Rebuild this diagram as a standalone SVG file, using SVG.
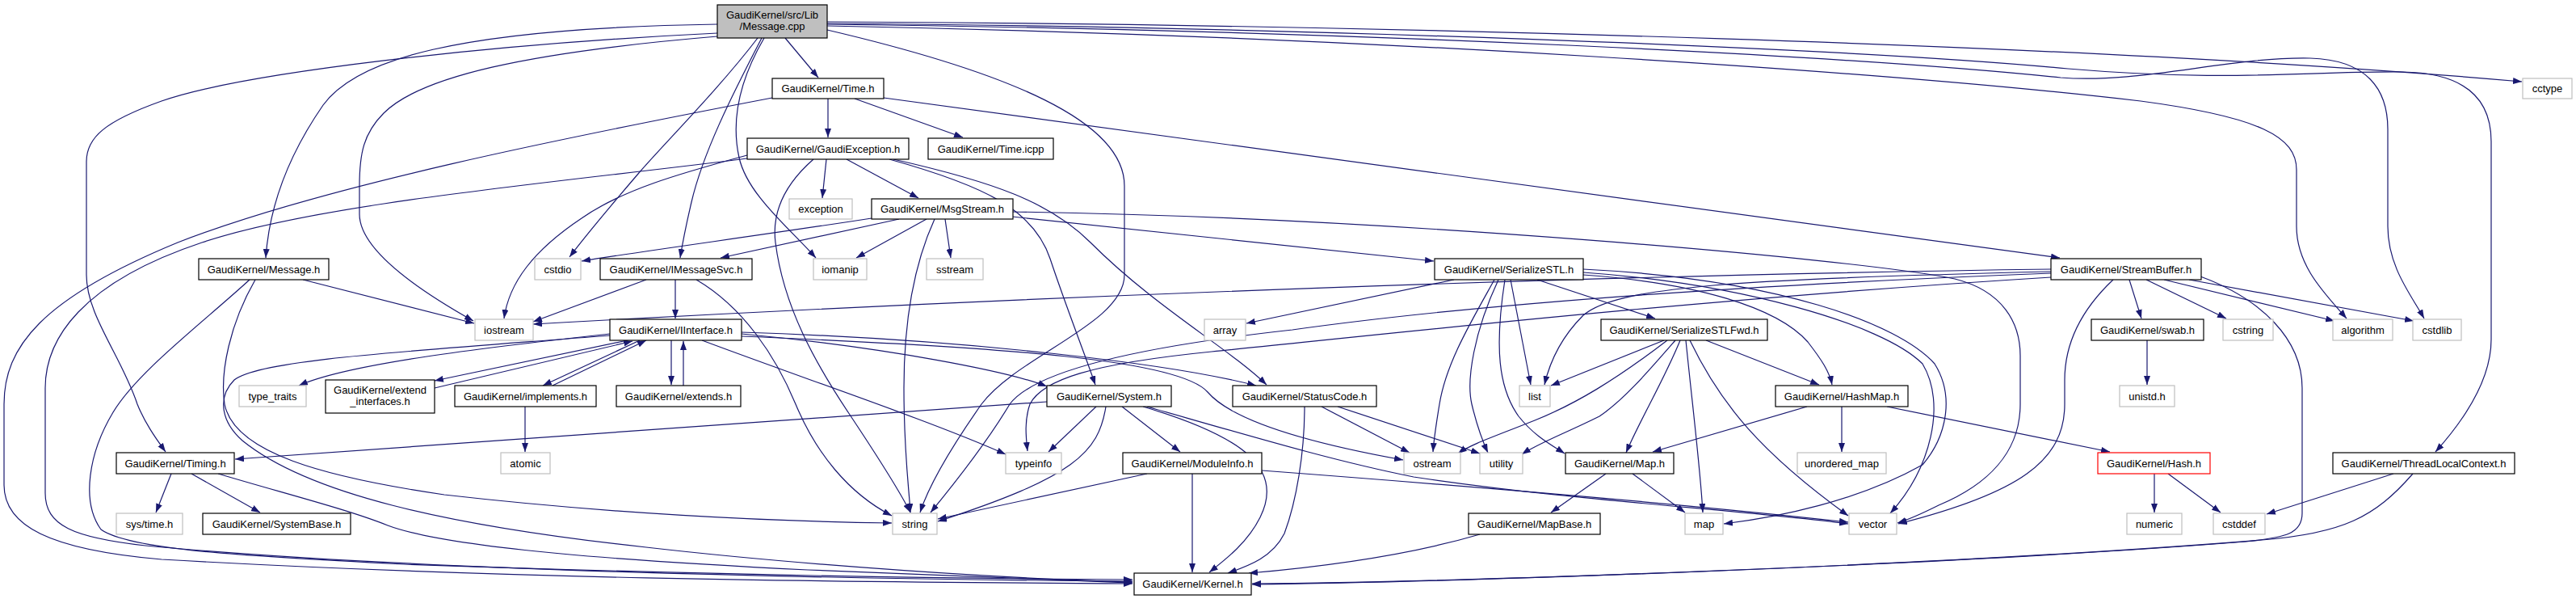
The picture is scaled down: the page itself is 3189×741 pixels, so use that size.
<svg xmlns="http://www.w3.org/2000/svg" width="3189" height="741" viewBox="0 0 3189 741">
<defs>
<marker id="a" markerUnits="userSpaceOnUse" markerWidth="11" markerHeight="8" refX="11" refY="4" orient="auto"><path d="M0,0 L11,4 L0,8 z" fill="#191970"/></marker>
<style>
rect{fill:#fff;stroke:#000;stroke-width:1.2}
.s rect{stroke:#bfbfbf}
.r rect{stroke:#ff0000}
.root rect{fill:#bfbfbf}
text{font-family:"Liberation Sans",Arial,sans-serif;font-size:13px;text-anchor:middle;fill:#000}
#edges path{fill:none;stroke:#191970;stroke-width:1.2;marker-end:url(#a)}
</style>
</defs>
<rect x="0" y="0" width="3189" height="741" style="fill:#fff;stroke:none"/>
<g id="edges">
<path d="M972,47 L1013,96"/>
<path d="M1024,27 C1700,30 2600,55 3122,101"/>
<path d="M1024,29 C1600,33 2300,60 2560,85 C2760,102 2850,88 2974,89 C3050,90 3084,120 3084,175 L3084,420 C3084,470 3050,520 3015,559"/>
<path d="M1024,30 C1700,38 2300,70 2551,96 C2650,104 2760,70 2860,72 C2930,74 2956,110 2956,160 L2956,280 C2956,330 2985,365 3001,394"/>
<path d="M1024,32 C1700,45 2350,90 2650,125 C2800,145 2843,170 2843,210 L2843,280 C2843,330 2880,365 2905,394"/>
<path d="M1024,37 C1250,90 1392,150 1392,230 L1392,340 C1392,400 1260,440 1215,500 C1180,550 1150,600 1139,634"/>
<path d="M888,30 C560,35 440,75 400,130 C355,195 333,260 329,319"/>
<path d="M888,41 C600,55 300,90 200,125 C130,150 107,170 107,200 L107,340 C107,390 150,440 170,500 C180,525 195,545 205,559"/>
<path d="M888,45 C650,65 520,95 475,140 C450,165 445,190 445,230 L445,265 C445,310 520,360 586,397"/>
<path d="M938,47 C890,110 820,180 790,215 C760,250 730,285 705,318"/>
<path d="M943,47 C905,120 870,190 856,250 C849,280 845,300 842,319"/>
<path d="M946,47 C915,100 905,150 915,195 C925,240 975,280 1010,319"/>
<path d="M1025,122 L1025,170"/>
<path d="M1058,122 L1192,170"/>
<path d="M1094,121 L2550,319"/>
<path d="M956,121 C700,170 400,230 220,300 C50,370 5,430 5,500 L5,600 C5,650 60,680 200,692 C600,715 1000,720 1402,722"/>
<path d="M1023,197 L1018,245"/>
<path d="M1048,197 L1137,245"/>
<path d="M1007,197 C975,225 955,260 960,300 C970,380 1010,450 1050,510 C1090,570 1115,610 1127,634"/>
<path d="M925,192 C840,215 770,235 720,270 C660,310 630,350 624,394"/>
<path d="M1101,197 C1220,230 1280,260 1300,320 C1320,380 1340,430 1356,476"/>
<path d="M1106,197 C1230,225 1300,250 1350,300 C1430,380 1520,430 1568,476"/>
<path d="M925,196 C700,225 400,250 250,300 C100,350 56,420 56,480 L56,610 C56,650 90,665 180,675 C500,705 1000,716 1402,719"/>
<path d="M1079,270 C950,290 800,310 720,323"/>
<path d="M1113,271 L892,319"/>
<path d="M1147,271 L1060,319"/>
<path d="M1157,271 C1130,330 1119,400 1119,480 C1119,560 1125,600 1127,634"/>
<path d="M1170,271 L1177,319"/>
<path d="M1253,268 L1775,323"/>
<path d="M1253,262 C1700,268 2300,320 2420,345 C2480,360 2501,400 2501,440 L2501,500 C2501,560 2460,600 2400,625 C2380,635 2365,642 2349,647"/>
<path d="M375,346 L587,400"/>
<path d="M316,346 C285,400 272,460 278,500 C290,560 400,590 550,612 C750,635 950,645 1104,647"/>
<path d="M309,346 C250,400 170,460 140,510 C110,560 100,620 125,655 C160,680 300,688 500,698 C900,712 1200,716 1402,717"/>
<path d="M836,346 L836,394"/>
<path d="M800,346 L660,398"/>
<path d="M862,346 C920,380 960,440 985,500 C1010,560 1050,610 1104,638"/>
<path d="M755,413 C600,430 430,450 370,477"/>
<path d="M777,421 L538,471"/>
<path d="M538,480 L783,422"/>
<path d="M792,421 L672,477"/>
<path d="M684,477 L800,421"/>
<path d="M831,421 L831,476"/>
<path d="M846,477 L846,422"/>
<path d="M918,413 C1100,430 1250,460 1296,478"/>
<path d="M918,411 C1200,420 1450,450 1555,477"/>
<path d="M869,421 C1000,470 1150,520 1245,562"/>
<path d="M918,416 C1250,430 1460,445 1495,485 C1525,520 1620,548 1737,569"/>
<path d="M755,415 C500,435 320,445 290,470 C270,490 272,520 300,545 C380,610 550,650 800,677 C1000,700 1250,716 1402,720"/>
<path d="M650,503 L650,559"/>
<path d="M1296,497 L291,568"/>
<path d="M1357,503 L1298,559"/>
<path d="M1369,503 C1360,560 1330,590 1161,645"/>
<path d="M1389,503 L1461,559"/>
<path d="M1415,503 C1540,540 1590,580 1560,640 C1545,670 1520,690 1497,708"/>
<path d="M1420,503 C1550,540 1650,570 1750,590 C1950,620 2150,630 2288,648"/>
<path d="M1420,586 L1161,642"/>
<path d="M1476,586 L1476,708"/>
<path d="M1562,582 C1800,600 2100,625 2288,646"/>
<path d="M1636,503 L1745,560"/>
<path d="M1656,503 L1832,561"/>
<path d="M1615,503 C1615,560 1605,620 1590,660 C1575,690 1545,700 1520,709"/>
<path d="M1800,346 L1543,400"/>
<path d="M1850,346 C1820,400 1790,450 1782,500 C1777,530 1775,545 1774,559"/>
<path d="M1855,346 C1825,410 1815,470 1822,500 C1828,525 1835,545 1842,560"/>
<path d="M1863,346 C1850,430 1855,480 1880,515 C1900,540 1920,550 1937,561"/>
<path d="M1870,346 L1895,476"/>
<path d="M1903,346 L2049,394"/>
<path d="M1960,340 C2100,350 2200,380 2238,423 C2255,445 2265,460 2268,476"/>
<path d="M1960,333 C2200,345 2350,400 2395,450 C2420,490 2410,540 2380,575 C2300,620 2200,640 2134,648"/>
<path d="M1960,337 C2150,350 2330,400 2380,450 C2410,500 2390,580 2340,635"/>
<path d="M2060,421 L1920,477"/>
<path d="M2064,421 C2000,470 1950,500 1900,520 C1850,540 1820,550 1805,561"/>
<path d="M2074,421 C2040,460 2010,495 1980,515 C1940,535 1905,548 1884,562"/>
<path d="M2080,421 C2060,470 2030,520 2013,560"/>
<path d="M2087,421 C2095,500 2105,580 2108,634"/>
<path d="M2092,421 C2130,500 2180,560 2288,638"/>
<path d="M2112,421 L2252,476"/>
<path d="M2237,503 L2046,559"/>
<path d="M2280,503 L2280,559"/>
<path d="M2336,503 L2612,559"/>
<path d="M1988,586 L1920,634"/>
<path d="M2021,586 L2086,634"/>
<path d="M1832,661 C1750,685 1650,700 1546,709"/>
<path d="M2539,333 C2000,340 1300,365 660,401"/>
<path d="M2539,336 C2150,345 2000,355 1960,390 C1930,420 1918,450 1912,476"/>
<path d="M2539,338 C2100,355 1800,380 1600,408 C1400,430 1280,460 1250,500 C1220,550 1180,600 1152,634"/>
<path d="M2539,343 C2100,370 1700,415 1500,435 C1350,450 1290,470 1275,500 C1268,520 1270,540 1272,558"/>
<path d="M2616,346 C2580,380 2556,420 2556,470 L2556,500 C2556,570 2500,610 2350,648"/>
<path d="M2636,346 L2651,394"/>
<path d="M2657,346 L2756,394"/>
<path d="M2679,346 L2890,397"/>
<path d="M2710,346 L2988,397"/>
<path d="M2724,342 C2800,370 2850,420 2850,480 L2850,635 C2850,660 2830,665 2780,670 C2400,700 1800,720 1550,722"/>
<path d="M2658,421 L2658,476"/>
<path d="M2667,586 L2667,634"/>
<path d="M2684,586 L2749,634"/>
<path d="M2963,586 L2806,636"/>
<path d="M2987,586 C2940,640 2900,660 2800,668 C2400,700 1800,720 1550,723"/>
<path d="M212,586 L193,634"/>
<path d="M237,586 L322,634"/>
<path d="M270,586 C350,610 430,630 480,650 C560,680 800,695 1000,705 C1200,712 1300,718 1402,721"/>
</g>
<g id="n_root" class="root"><rect x="888" y="6" width="136" height="41"/><text x="956" y="23">GaudiKernel/src/Lib</text><text x="956" y="37">/Message.cpp</text></g>
<g id="n_time_h"><rect x="956" y="97" width="138" height="25"/><text x="1025" y="114">GaudiKernel/Time.h</text></g>
<g id="n_cctype" class="s"><rect x="3123" y="97" width="61" height="25"/><text x="3153.5" y="114">cctype</text></g>
<g id="n_gaudiexception"><rect x="925" y="171" width="200" height="26"/><text x="1025" y="188.5">GaudiKernel/GaudiException.h</text></g>
<g id="n_time_icpp"><rect x="1149" y="171" width="155" height="26"/><text x="1226.5" y="188.5">GaudiKernel/Time.icpp</text></g>
<g id="n_exception" class="s"><rect x="977" y="246" width="78" height="25"/><text x="1016" y="263">exception</text></g>
<g id="n_msgstream"><rect x="1079" y="246" width="175" height="25"/><text x="1166.5" y="263">GaudiKernel/MsgStream.h</text></g>
<g id="n_cstdio" class="s"><rect x="662" y="320" width="57" height="26"/><text x="690.5" y="337.5">cstdio</text></g>
<g id="n_message_h"><rect x="246" y="320" width="161" height="26"/><text x="326.5" y="337.5">GaudiKernel/Message.h</text></g>
<g id="n_imessagesvc"><rect x="743" y="320" width="188" height="26"/><text x="837" y="337.5">GaudiKernel/IMessageSvc.h</text></g>
<g id="n_iomanip" class="s"><rect x="1007" y="320" width="66" height="26"/><text x="1040" y="337.5">iomanip</text></g>
<g id="n_sstream" class="s"><rect x="1147" y="320" width="70" height="26"/><text x="1182" y="337.5">sstream</text></g>
<g id="n_serializestl"><rect x="1776" y="320" width="184" height="26"/><text x="1868" y="337.5">GaudiKernel/SerializeSTL.h</text></g>
<g id="n_streambuffer"><rect x="2539" y="320" width="186" height="26"/><text x="2632" y="337.5">GaudiKernel/StreamBuffer.h</text></g>
<g id="n_iostream" class="s"><rect x="588" y="395" width="72" height="26"/><text x="624" y="412.5">iostream</text></g>
<g id="n_iinterface"><rect x="755" y="395" width="163" height="26"/><text x="836.5" y="412.5">GaudiKernel/IInterface.h</text></g>
<g id="n_array" class="s"><rect x="1491" y="395" width="51" height="26"/><text x="1516.5" y="412.5">array</text></g>
<g id="n_serializestlfwd"><rect x="1982" y="395" width="206" height="26"/><text x="2085" y="412.5">GaudiKernel/SerializeSTLFwd.h</text></g>
<g id="n_swab"><rect x="2589" y="395" width="139" height="26"/><text x="2658.5" y="412.5">GaudiKernel/swab.h</text></g>
<g id="n_cstring" class="s"><rect x="2752" y="395" width="62" height="26"/><text x="2783" y="412.5">cstring</text></g>
<g id="n_algorithm" class="s"><rect x="2888" y="395" width="74" height="26"/><text x="2925" y="412.5">algorithm</text></g>
<g id="n_cstdlib" class="s"><rect x="2987" y="395" width="60" height="26"/><text x="3017" y="412.5">cstdlib</text></g>
<g id="n_type_traits" class="s"><rect x="296" y="477" width="83" height="26"/><text x="337.5" y="494.5">type_traits</text></g>
<g id="n_extend_interfaces"><rect x="403" y="470" width="135" height="41"/><text x="470.5" y="486.5">GaudiKernel/extend</text><text x="470.5" y="500.5">_interfaces.h</text></g>
<g id="n_implements"><rect x="563" y="477" width="175" height="26"/><text x="650.5" y="494.5">GaudiKernel/implements.h</text></g>
<g id="n_extends"><rect x="763" y="477" width="154" height="26"/><text x="840" y="494.5">GaudiKernel/extends.h</text></g>
<g id="n_system"><rect x="1296" y="477" width="154" height="26"/><text x="1373" y="494.5">GaudiKernel/System.h</text></g>
<g id="n_statuscode"><rect x="1526" y="477" width="178" height="26"/><text x="1615" y="494.5">GaudiKernel/StatusCode.h</text></g>
<g id="n_list" class="s"><rect x="1881" y="477" width="38" height="26"/><text x="1900" y="494.5">list</text></g>
<g id="n_hashmap"><rect x="2198" y="477" width="164" height="26"/><text x="2280" y="494.5">GaudiKernel/HashMap.h</text></g>
<g id="n_unistd" class="s"><rect x="2624" y="477" width="68" height="26"/><text x="2658" y="494.5">unistd.h</text></g>
<g id="n_timing"><rect x="144" y="560" width="146" height="26"/><text x="217" y="577.5">GaudiKernel/Timing.h</text></g>
<g id="n_atomic" class="s"><rect x="620" y="560" width="61" height="26"/><text x="650.5" y="577.5">atomic</text></g>
<g id="n_typeinfo" class="s"><rect x="1245" y="560" width="69" height="26"/><text x="1279.5" y="577.5">typeinfo</text></g>
<g id="n_moduleinfo"><rect x="1390" y="560" width="172" height="26"/><text x="1476" y="577.5">GaudiKernel/ModuleInfo.h</text></g>
<g id="n_ostream" class="s"><rect x="1738" y="560" width="70" height="26"/><text x="1773" y="577.5">ostream</text></g>
<g id="n_utility" class="s"><rect x="1832" y="560" width="53" height="26"/><text x="1858.5" y="577.5">utility</text></g>
<g id="n_map_h"><rect x="1938" y="560" width="134" height="26"/><text x="2005" y="577.5">GaudiKernel/Map.h</text></g>
<g id="n_unordered_map" class="s"><rect x="2225" y="560" width="110" height="26"/><text x="2280" y="577.5">unordered_map</text></g>
<g id="n_hash" class="r"><rect x="2597" y="560" width="139" height="26"/><text x="2666.5" y="577.5">GaudiKernel/Hash.h</text></g>
<g id="n_threadlocalcontext"><rect x="2888" y="560" width="225" height="26"/><text x="3000.5" y="577.5">GaudiKernel/ThreadLocalContext.h</text></g>
<g id="n_systime" class="s"><rect x="144" y="635" width="82" height="26"/><text x="185" y="652.5">sys/time.h</text></g>
<g id="n_systembase"><rect x="251" y="635" width="183" height="26"/><text x="342.5" y="652.5">GaudiKernel/SystemBase.h</text></g>
<g id="n_string" class="s"><rect x="1105" y="635" width="55" height="26"/><text x="1132.5" y="652.5">string</text></g>
<g id="n_mapbase"><rect x="1818" y="635" width="163" height="26"/><text x="1899.5" y="652.5">GaudiKernel/MapBase.h</text></g>
<g id="n_map" class="s"><rect x="2086" y="635" width="47" height="26"/><text x="2109.5" y="652.5">map</text></g>
<g id="n_vector" class="s"><rect x="2289" y="635" width="59" height="26"/><text x="2318.5" y="652.5">vector</text></g>
<g id="n_numeric" class="s"><rect x="2633" y="635" width="68" height="26"/><text x="2667" y="652.5">numeric</text></g>
<g id="n_cstddef" class="s"><rect x="2740" y="635" width="64" height="26"/><text x="2772" y="652.5">cstddef</text></g>
<g id="n_kernel"><rect x="1404" y="709" width="145" height="27"/><text x="1476.5" y="727">GaudiKernel/Kernel.h</text></g>
</svg>
